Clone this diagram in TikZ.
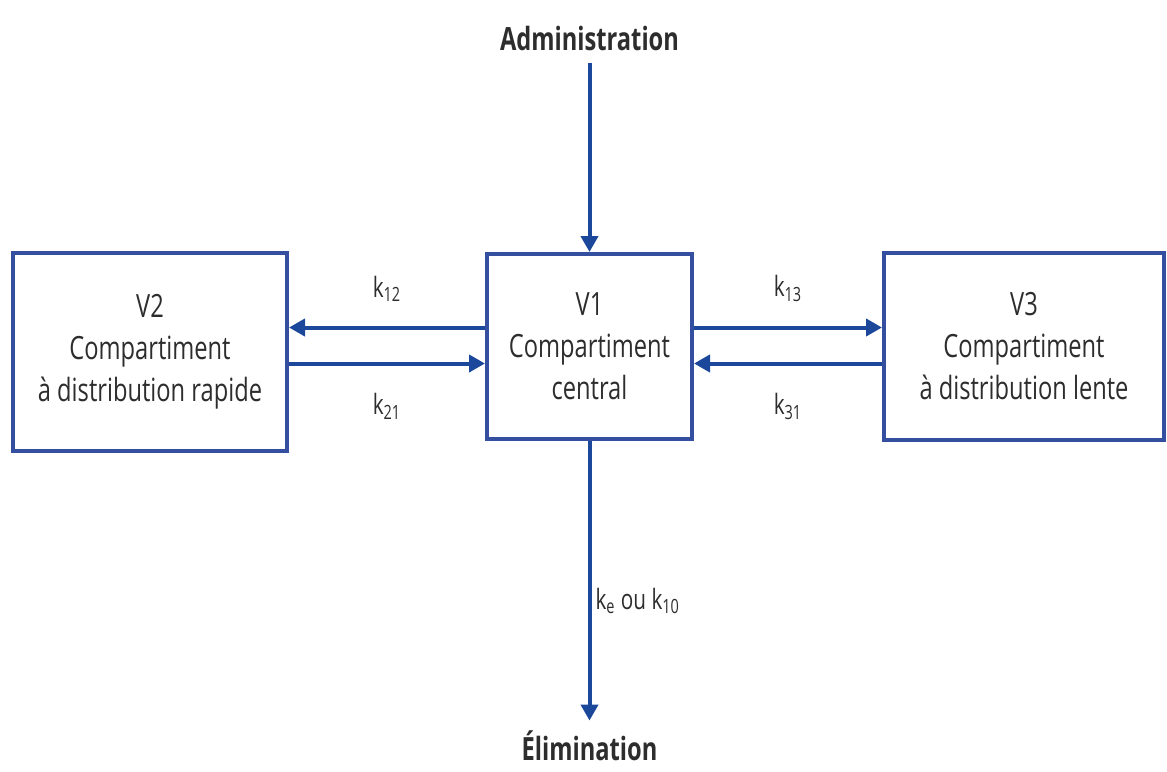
\documentclass[tikz,border=0pt]{standalone}
\usepackage{fontspec}
\setmainfont[FakeStretch=0.74]{Open Sans}
\usetikzlibrary{arrows.meta, positioning}

\definecolor{boxblue}{RGB}{52,78,160}
\definecolor{arrblue}{RGB}{28,72,155}
\definecolor{txtgray}{RGB}{45,45,45}

\begin{document}
\begin{tikzpicture}[
  x=0.5pt, y=-0.5pt,
  comp/.style  = {rectangle, draw=boxblue, line width=2pt, fill=white, align=center,
                  font=\fontsize{16}{21}\selectfont, text=txtgray, inner sep=2pt},
  term/.style  = {font=\fontsize{16}{20}\selectfont\bfseries, text=txtgray, inner sep=2pt},
  rate/.style  = {font=\fontsize{14}{16}\selectfont, text=txtgray, inner sep=2pt},
  arr/.style   = {-{Triangle[length=8pt, width=8.5pt]}, line width=2pt, arrblue}
]
\useasboundingbox (0,0) rectangle (1167,771);

%% -- Compartments -----------------------------------------------------------
\node[comp, minimum width=137pt, minimum height=99pt]   (V2) at (150,352)   {V2\\Compartiment\\à distribution rapide};
\node[comp, minimum width=102.5pt, minimum height=92.5pt] (V1) at (589.5,346.5) {V1\\Compartiment\\central};
\node[comp, minimum width=140pt, minimum height=93.5pt] (V3) at (1024,346.5) {V3\\Compartiment\\à distribution lente};

%% -- Input / output ---------------------------------------------------------
\node[term] (adm)  at (589.5,38)  {Administration};
\node[term] (elim) at (589.5,746) {Élimination};

%% -- Vertical arrows --------------------------------------------------------
\draw[arr, shorten <=4pt] (adm) -- (V1);
\draw[arr, shorten >=3pt] (V1) -- node[rate, right, pos=0.56]{k\textsubscript{e} ou k\textsubscript{10}} (elim);

%% -- Exchange arrows --------------------------------------------------------
\draw[arr] ([yshift=9.5pt]V1.west) -- node[rate, above=10pt]{k\textsubscript{12}} ([yshift=9.5pt]V1.west -| V2.east);
\draw[arr] ([yshift=-8.5pt]V1.west -| V2.east) -- node[rate, below=12pt]{k\textsubscript{21}} ([yshift=-8.5pt]V1.west);
\draw[arr] ([yshift=9.5pt]V1.east) -- node[rate, above=10pt]{k\textsubscript{13}} ([yshift=9.5pt]V1.east -| V3.west);
\draw[arr] ([yshift=-8.5pt]V1.east -| V3.west) -- node[rate, below=12pt]{k\textsubscript{31}} ([yshift=-8.5pt]V1.east);

\end{tikzpicture}
\end{document}
